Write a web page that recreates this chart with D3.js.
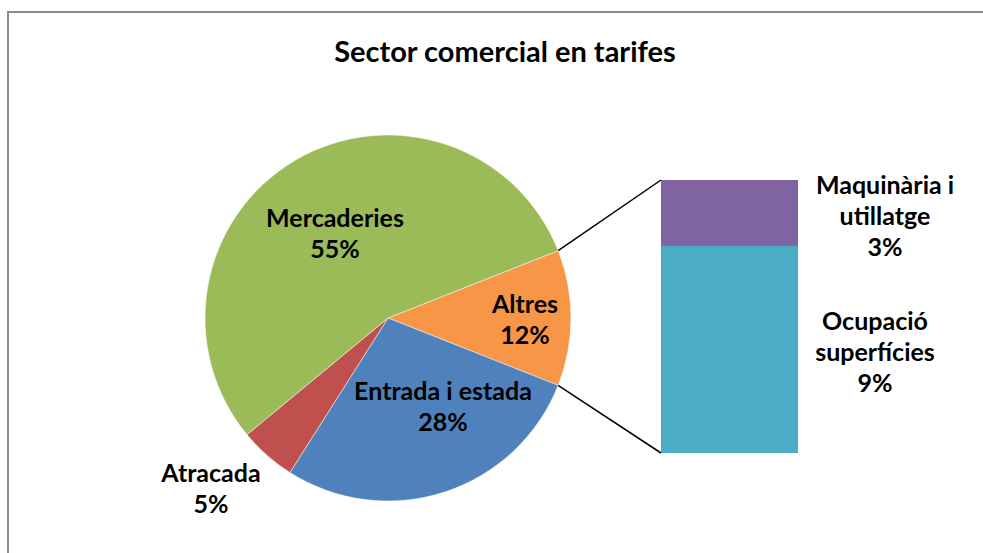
<!DOCTYPE html>
<html>
<head>
<meta charset="utf-8">
<script src="https://cdn.jsdelivr.net/npm/d3@7"></script>
<style>
  body { margin: 0; background: #fff; }
  svg { display: block; }
  text { font-family: Lato, "Open Sans", sans-serif; font-weight: bold; fill: #000; }
</style>
</head>
<body>
<svg id="chart" width="983" height="553"></svg>
<script>
// pie slices (Altres = sum of the bar parts)
const pieLabels = ["Altres", "Entrada i estada", "Atracada", "Mercaderies"];
const pieValues = [12, 28, 5, 55];
const pieColors = ["#F79646", "#4F81BD", "#C0504D", "#9BBB59"];

// secondary bar (breakdown of Altres), bottom to top
const barLabels = ["Ocupació superfícies", "Maquinària i utillatge"];
const barValues = [9.1, 2.9];
const barColors = ["#4BACC6", "#8064A2"];

const svg = d3.select("#chart");

// chart frame
svg.append("rect")
    .attr("x", 8).attr("y", 12)
    .attr("width", 1000).attr("height", 600)
    .attr("fill", "none")
    .attr("stroke", "#8c8c8c")
    .attr("stroke-width", 2);

svg.append("text")
    .attr("x", 505).attr("y", 62)
    .attr("text-anchor", "middle")
    .style("font-size", "29px")
    .text("Sector comercial en tarifes");

const cx = 388, cy = 318, r = 183;
const total = d3.sum(pieValues);
const half = Math.PI * pieValues[0] / total;

const pie = d3.pie().sort(null)
    .startAngle(Math.PI / 2 - half)
    .endAngle(Math.PI / 2 - half + 2 * Math.PI);
const arcs = pie(pieValues);
const arc = d3.arc().innerRadius(0).outerRadius(r);

const g = svg.append("g").attr("transform", `translate(${cx},${cy})`);
g.selectAll("path")
    .data(arcs)
    .enter()
    .append("path")
        .attr("d", arc)
        .attr("fill", (d, i) => pieColors[i])
        .attr("stroke", "#fff")
        .attr("stroke-width", 0.5);

// bar of the "Altres" slice
const barX = 661, barW = 137;
const y = d3.scaleLinear()
    .domain([0, d3.sum(barValues)])
    .range([453, 180]);
let acc = 0;
const stacked = barValues.map(v => { const s = { y0: acc, y1: acc + v }; acc += v; return s; });
svg.selectAll("rect.bar")
    .data(stacked)
    .enter()
    .append("rect")
        .attr("class", "bar")
        .attr("x", barX)
        .attr("width", barW)
        .attr("y", d => y(d.y1))
        .attr("height", d => y(d.y0) - y(d.y1))
        .attr("fill", (d, i) => barColors[i]);

// connector lines from the Altres slice edges to the bar
const a0 = arcs[0].startAngle, a1 = arcs[0].endAngle;
const edge = a => [cx + r * Math.sin(a), cy - r * Math.cos(a)];
const conn = [[edge(a0), [barX, y(d3.sum(barValues))]], [edge(a1), [barX, y(0)]]];
svg.selectAll("line.conn")
    .data(conn)
    .enter()
    .append("line")
        .attr("class", "conn")
        .attr("x1", d => d[0][0]).attr("y1", d => d[0][1])
        .attr("x2", d => d[1][0]).attr("y2", d => d[1][1])
        .attr("stroke", "#000")
        .attr("stroke-width", 1.5);

// data labels
const fmt = v => Math.round(v / total * 100) + "%";
function label(x, y0, lines) {
    const t = svg.append("text")
        .attr("text-anchor", "middle")
        .style("font-size", "25px");
    lines.forEach((s, i) => {
        t.append("tspan").attr("x", x).attr("y", y0 + i * 31).text(s);
    });
}
const pieLabelPos = [[525, 313], [443, 400], [211, 482], [335, 227]];
pieLabels.forEach((name, i) => {
    label(pieLabelPos[i][0], pieLabelPos[i][1], [name, fmt(pieValues[i])]);
});
label(875, 330, ["Ocupació", "superfícies", fmt(barValues[0])]);
label(885, 194, ["Maquinària i", "utillatge", fmt(barValues[1])]);
</script>
</body>
</html>
